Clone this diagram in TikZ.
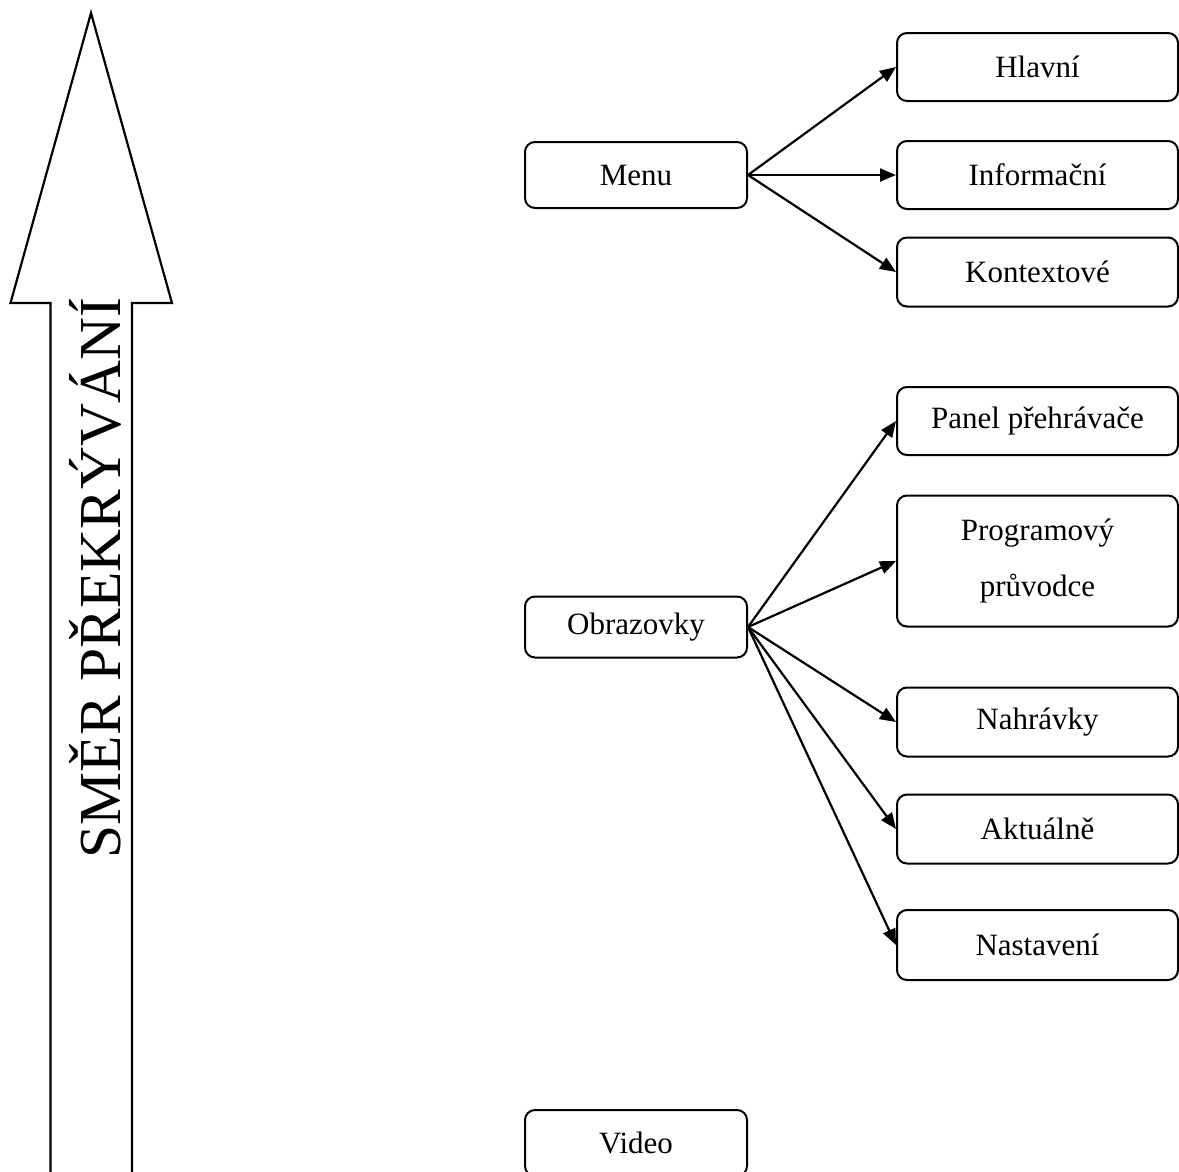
\documentclass[tikz,border=0pt]{standalone}
\usepackage{fontspec}
\setmainfont{Liberation Serif}
\usetikzlibrary{arrows.meta}
\begin{document}
\begin{tikzpicture}[x=1pt,y=-1pt,
  box/.style={draw, line width=2pt, rounded corners=10pt, inner sep=0pt,
    font=\fontsize{31}{56}\selectfont, align=center},
  lbox/.style={box, minimum width=222pt},
  rbox/.style={box, minimum width=281pt},
  conn/.style={line width=2.2pt, -{Triangle[length=16pt,width=13pt]}}]
\useasboundingbox (0,0) rectangle (1179,1171);
\clip (0,0) rectangle (1179,1171);
% big direction arrow
\draw[line width=2.2pt, line join=miter]
  (50.5,1190) -- (50.5,303) -- (10.5,303) -- (91,13) -- (172,303) -- (132,303) -- (132,1190);
\node[rotate=90, anchor=base, inner sep=0pt, font=\fontsize{59.5}{60}\selectfont] (dir) at (120,578) {SMĚR PŘEKRÝVÁNÍ};
% left boxes
\node[lbox, minimum height=66pt] (menu) at (636,175) {Menu};
\node[lbox, minimum height=61pt] (obr) at (636,627) {Obrazovky};
\node[lbox, minimum height=66pt] (video) at (636,1143) {Video};
% right boxes
\node[rbox, minimum height=68pt] (hl) at (1037.5,67) {Hlavní};
\node[rbox, minimum height=68pt] (inf) at (1037.5,175) {Informační};
\node[rbox, minimum height=69pt] (kon) at (1037.5,272) {Kontextové};
\node[rbox, minimum height=68pt] (pan) at (1037.5,421) {Panel přehrávače};
\node[rbox, minimum height=131pt] (prg) at (1037.5,561) {Programový\\průvodce};
\node[rbox, minimum height=69pt] (nah) at (1037.5,722) {Nahrávky};
\node[rbox, minimum height=69pt] (akt) at (1037.5,829) {Aktuálně};
\node[rbox, minimum height=70pt] (nas) at (1037.5,945) {Nastavení};
% connectors
\draw[conn] (menu.east) -- (hl.west);
\draw[conn] (menu.east) -- (inf.west);
\draw[conn] (menu.east) -- (kon.west);
\draw[conn] (obr.east) -- (pan.west);
\draw[conn] (obr.east) -- (prg.west);
\draw[conn] (obr.east) -- (nah.west);
\draw[conn] (obr.east) -- (akt.west);
\draw[conn] (obr.east) -- (nas.west);
\end{tikzpicture}
\end{document}
